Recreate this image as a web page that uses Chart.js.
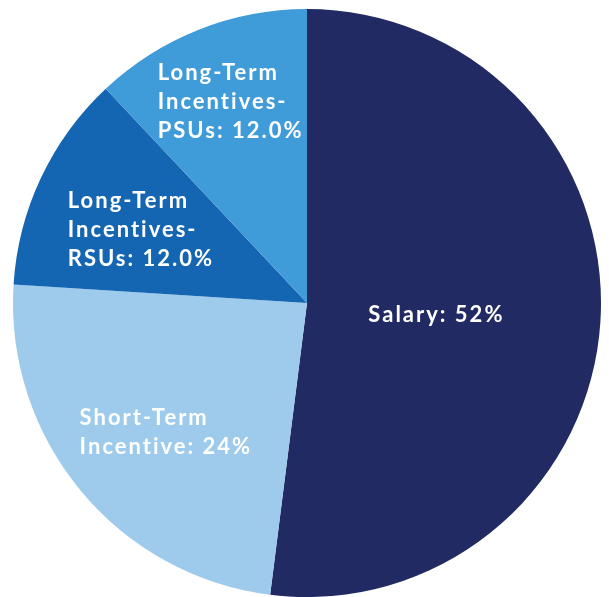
<!DOCTYPE html>
<html>
<head>
<meta charset="utf-8">
<script src="https://cdn.jsdelivr.net/npm/chart.js@4"></script>
<style>
  html, body { margin: 0; padding: 0; background: #ffffff; }
  #wrap { width: 609px; height: 597px; }
</style>
</head>
<body>
<div id="wrap"><canvas id="graficoPago"></canvas></div>
<script>
const categorias = ["Salary", "Short-Term Incentive", "Long-Term Incentives-RSUs", "Long-Term Incentives-PSUs"];
const valores = [52, 24, 12, 12];
const etiquetas = [
    ["Salary: 52%"],
    ["Short-Term", "Incentive: 24%"],
    ["Long-Term", "Incentives-", "RSUs: 12.0%"],
    ["Long-Term", "Incentives-", "PSUs: 12.0%"],
];
const colores = ["#212a62", "#9ecbec", "#1465b2", "#409bd9"];

// where each label block sits, as a fraction of the radius from the centre
const posEtiquetas = [
    [0.44, 0.04],
    [-0.48, 0.44],
    [-0.565, -0.25],
    [-0.26, -0.685],
];

const pluginEtiquetas = {
    id: "etiquetas",
    afterDatasetsDraw(chart) {
        const ctx = chart.ctx;
        const arcos = chart.getDatasetMeta(0).data;
        ctx.save();
        ctx.fillStyle = "#ffffff";
        ctx.font = "bold 22px Lato";
        ctx.letterSpacing = "2px";
        ctx.textBaseline = "middle";
        ctx.textAlign = "left";
        const altoLinea = 29;
        arcos.forEach((arco, i) => {
            const r = arco.outerRadius;
            const cx = arco.x + posEtiquetas[i][0] * r;
            const cy = arco.y + posEtiquetas[i][1] * r;
            const lineas = etiquetas[i];
            const ancho = Math.max(...lineas.map((l) => ctx.measureText(l).width));
            const y0 = cy - ((lineas.length - 1) * altoLinea) / 2;
            lineas.forEach((l, j) => {
                ctx.fillText(l, cx - ancho / 2, y0 + j * altoLinea);
            });
        });
        ctx.restore();
    },
};

const dataGraficoPago = {
    labels: categorias,
    datasets: [
        {
            label: "Pay mix",
            backgroundColor: colores,
            borderWidth: 0,
            data: valores,
        },
    ],
};

const configGraficoPago = {
    type: "pie",
    data: dataGraficoPago,
    options: {
        responsive: true,
        maintainAspectRatio: false,
        animation: false,
        layout: {
            padding: { top: 9, bottom: 0, left: 5, right: 0 },
        },
        plugins: {
            legend: { display: false },
            tooltip: { enabled: false },
        },
    },
    plugins: [pluginEtiquetas],
};

const chartPago = new Chart(document.getElementById("graficoPago"), configGraficoPago);
</script>
</body>
</html>
